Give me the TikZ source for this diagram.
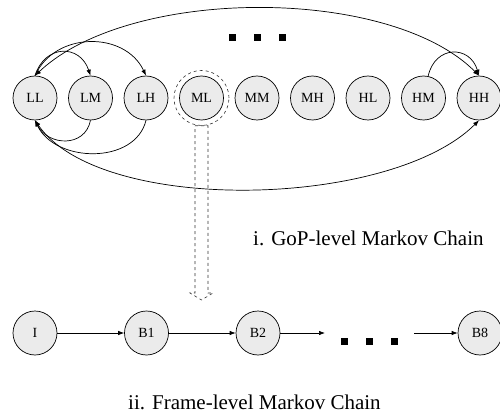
\documentclass[tikz,border=0pt]{standalone}
\usepackage{fontspec}
\setmainfont{Liberation Serif}
\usetikzlibrary{arrows.meta,calc}
\begin{document}
\begin{tikzpicture}[x=1pt,y=-1pt,
  st/.style={circle,draw=black,fill=black!8,line width=0.7pt,minimum size=44pt,inner sep=0pt,font=\fontsize{14}{16}\selectfont},
  ring/.style={circle,draw=black!80,dashed,line width=0.6pt,minimum size=55pt,inner sep=0pt},
  edge/.style={line width=0.7pt,-{Latex[length=6pt,width=4.5pt]}},
  dedge/.style={line width=0.7pt,{Latex[length=6pt,width=4.5pt]}-{Latex[length=6pt,width=4.5pt]}},
  dot/.style={fill=black,minimum size=7pt,inner sep=0pt,rectangle},
  lab/.style={font=\fontsize{21}{24}\selectfont,inner sep=0pt,anchor=base west}]
\useasboundingbox (0,0) rectangle (500,414);
% top row
\node[st] (LL) at (35,98) {LL};
\node[st] (LM) at (90.5,98) {LM};
\node[st] (LH) at (146,98) {LH};
\node[st] (ML) at (201.5,98) {ML};
\node[ring] (MLr) at (201.5,98) {};
\node[st] (MM) at (257,98) {MM};
\node[st] (MH) at (312.5,98) {MH};
\node[st] (HL) at (368,98) {HL};
\node[st] (HM) at (423.5,98) {HM};
\node[st] (HH) at (479,98) {HH};
% dots top
\node[dot] (t1) at (232.5,38) {};
\node[dot] (t2) at (257.5,38) {};
\node[dot] (t3) at (282.5,38) {};
% top arcs
\draw[edge] (LL.north) .. controls (45,44) and (80,44) .. (LM.north);
\draw[edge] (LL.north) .. controls (55,31) and (125,31) .. (LH.north);
\draw[dedge] (LL.north) .. controls (130,-14) and (390,-14) .. (HH.north);
\draw[edge] (HM.78) .. controls (435,45) and (470,45) .. (HH.north);
% bottom arcs
\draw[edge] (LM.south) .. controls (85,148) and (48,146) .. (LL.south);
\draw[edge] (LH.south) .. controls (135,165) and (55,163) .. (LL.south);
\draw[dedge] (LL.south) .. controls (100,215) and (390,209) .. (HH.south);
% dashed block arrow
\draw[dashed,black!80,line width=0.6pt]
  ($(MLr.south)+(-6.5,0)$) -- ($(MLr.south)+(6.5,0)$) -- (208,293) -- (213,293) -- (201.5,300)
  -- (190,293) -- (195,293) -- cycle;
% label 1
\node[lab] (lab1) at (253,245) {i. GoP-level Markov Chain};
% bottom row
\node[st] (I) at (35,333) {I};
\node[st] (B1) at (146.5,333) {B1};
\node[st] (B2) at (258,333) {B2};
\node[st] (B8) at (480,333) {B8};
\coordinate (e1) at (325,333);
\coordinate (s1) at (414,333);
\node[dot] (b1) at (344,341) {};
\node[dot] (b2) at (369,341) {};
\node[dot] (b3) at (394,341) {};
\draw[edge] (I) -- (B1);
\draw[edge] (B1) -- (B2);
\draw[edge] (B2) -- (e1);
\draw[edge] (s1) -- (B8);
\node[lab] (lab2) at (128,409) {ii. Frame-level Markov Chain};
\end{tikzpicture}
\end{document}
